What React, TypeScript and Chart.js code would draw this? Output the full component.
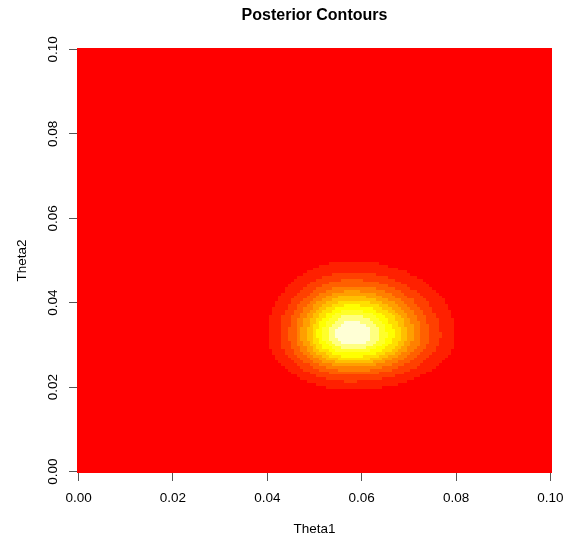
import React, { useEffect, useRef } from "react";
import { Chart, registerables } from "chart.js";

Chart.register(...registerables);

// ---- text ----
const chartTitle = "Posterior Contours";
const xAxisLabel = "Theta1";
const yAxisLabel = "Theta2";

// ---- axes ----
const xTickValues = [0, 0.02, 0.04, 0.06, 0.08, 0.1];
const yTickValues = [0, 0.02, 0.04, 0.06, 0.08, 0.1];

// ---- evaluation grid (R image(): cell centres from 0 to 0.1) ----
const gridMin = 0;
const gridMax = 0.1;
const gridPoints = 151;

// ---- R heat.colors(12): band 0 (lowest) .. band 11 (highest) ----
const heatColors = [
  "#FF0000", "#FF2000", "#FF4000", "#FF6000", "#FF8000", "#FF9F00",
  "#FFBF00", "#FFDF00", "#FFFF00", "#FFFF2A", "#FFFF80", "#FFFFD5",
];

// ---- posterior mode ----
const modeTheta1 = 0.0578;
const modeTheta2 = 0.0324;

// ---- contour extents of levels 1..11 (distance from the mode) ----
const levelLeft = [0.0178, 0.0151, 0.0133, 0.0118, 0.0106, 0.0094, 0.0083, 0.0072, 0.0061, 0.0048, 0.0033];
const levelRight = [0.0222, 0.0189, 0.0166, 0.0148, 0.0132, 0.0118, 0.0104, 0.009, 0.0076, 0.006, 0.0042];
const levelUp = [0.0175, 0.0149, 0.0131, 0.0116, 0.0104, 0.0093, 0.0082, 0.0071, 0.006, 0.0047, 0.0033];
const levelDown = [0.013, 0.0111, 0.0097, 0.0087, 0.0077, 0.0069, 0.0061, 0.0053, 0.0044, 0.0035, 0.0024];

const FONT = "'Liberation Sans', Arial, Helvetica, sans-serif";
const gridStep = (gridMax - gridMin) / (gridPoints - 1);

function bandAt(t1: number, t2: number): number {
  const dx = t1 - modeTheta1;
  const dy = t2 - modeTheta2;
  for (let k = levelLeft.length - 1; k >= 0; k--) {
    const rx = dx < 0 ? levelLeft[k] : levelRight[k];
    const ry = dy > 0 ? levelUp[k] : levelDown[k];
    if ((dx / rx) * (dx / rx) + (dy / ry) * (dy / ry) <= 1) return k + 1;
  }
  return 0;
}

const heatPlugin = {
  id: "heatImage",
  beforeDatasetsDraw(chart: any) {
    const { ctx, chartArea, scales } = chart;
    const xs = scales.x;
    const ys = scales.y;
    ctx.save();
    ctx.beginPath();
    ctx.rect(chartArea.left, chartArea.top, chartArea.right - chartArea.left, chartArea.bottom - chartArea.top);
    ctx.clip();
    for (let i = 0; i < gridPoints; i++) {
      const t1 = gridMin + i * gridStep;
      const x0 = Math.round(xs.getPixelForValue(t1 - gridStep / 2));
      const x1 = Math.round(xs.getPixelForValue(t1 + gridStep / 2));
      for (let j = 0; j < gridPoints; j++) {
        const t2 = gridMin + j * gridStep;
        const y0 = Math.round(ys.getPixelForValue(t2 + gridStep / 2));
        const y1 = Math.round(ys.getPixelForValue(t2 - gridStep / 2));
        ctx.fillStyle = heatColors[bandAt(t1, t2)];
        ctx.fillRect(x0, y0, x1 - x0, y1 - y0);
      }
    }
    ctx.restore();
  },
};

const yTickLabelPlugin = {
  id: "yTickLabelsRotated",
  afterDraw(chart: any) {
    const { ctx, scales } = chart;
    const ys = scales.y;
    ctx.save();
    ctx.font = `13.5px ${FONT}`;
    ctx.fillStyle = "#000";
    ctx.textAlign = "center";
    ctx.textBaseline = "middle";
    for (const v of yTickValues) {
      const py = ys.getPixelForValue(v);
      ctx.save();
      ctx.translate(ys.right - 24, py);
      ctx.rotate(-Math.PI / 2);
      ctx.fillText(v.toFixed(2), 0, 0);
      ctx.restore();
    }
    ctx.restore();
  },
};

export default function App() {
  const canvasRef = useRef<HTMLCanvasElement | null>(null);

  useEffect(() => {
    if (!canvasRef.current) return;
    const chart = new Chart(canvasRef.current, {
      type: "scatter",
      data: { datasets: [] },
      options: {
        animation: false,
        responsive: false,
        devicePixelRatio: 1,
        layout: { padding: { top: 0, left: 0, right: 12, bottom: 0 } },
        plugins: {
          legend: { display: false },
          tooltip: { enabled: false },
          title: {
            display: true,
            text: chartTitle,
            fullSize: false,
            color: "#000",
            font: { family: FONT, size: 16, weight: "bold" },
            padding: { top: 6.4, bottom: 22.4 },
          },
        },
        scales: {
          x: {
            type: "linear",
            min: gridMin - gridStep / 2,
            max: gridMax + gridStep / 2,
            afterBuildTicks: (s: any) => {
              s.ticks = xTickValues.map((v) => ({ value: v }));
            },
            afterFit: (s: any) => {
              s.height = 64;
              s.paddingLeft = 0;
              s.paddingRight = 0;
            },
            grid: { drawOnChartArea: false, drawTicks: true, tickLength: 8, color: "#555" },
            border: { display: false },
            ticks: {
              autoSkip: false,
              maxRotation: 0,
              padding: 9,
              color: "#000",
              font: { family: FONT, size: 13.5 },
              callback: (v: any) => Number(v).toFixed(2),
            },
            title: {
              display: true,
              text: xAxisLabel,
              color: "#000",
              font: { family: FONT, size: 13.5 },
              padding: { top: 0, bottom: 0 },
            },
          },
          y: {
            type: "linear",
            min: gridMin - gridStep / 2,
            max: gridMax + gridStep / 2,
            afterBuildTicks: (s: any) => {
              s.ticks = yTickValues.map((v) => ({ value: v }));
            },
            afterFit: (s: any) => {
              s.width = 77;
              s.paddingTop = 0;
              s.paddingBottom = 0;
            },
            grid: { drawOnChartArea: false, drawTicks: true, tickLength: 8, color: "#555" },
            border: { display: false },
            ticks: { display: false },
            title: {
              display: true,
              text: yAxisLabel,
              color: "#000",
              font: { family: FONT, size: 13.5 },
              padding: { top: 14, bottom: 0 },
            },
          },
        },
      } as any,
      plugins: [heatPlugin, yTickLabelPlugin],
    });
    return () => chart.destroy();
  }, []);

  return (
    <div style={{ position: "absolute", left: 0, top: 0, width: 564, height: 537, background: "#fff" }}>
      <canvas ref={canvasRef} width={564} height={537} style={{ display: "block" }} />
    </div>
  );
}
